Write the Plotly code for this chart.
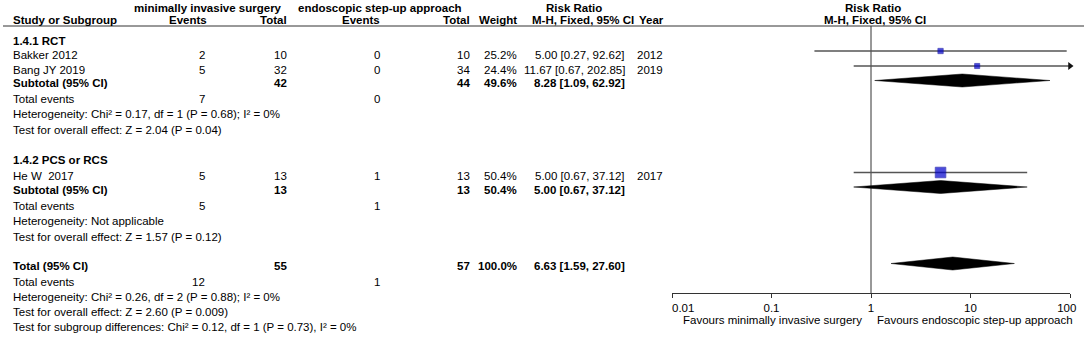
import plotly.graph_objects as go

# ---------------- data ----------------
studies = ["Bakker 2012", "Bang JY 2019", "He W\u00a0 2017"]
study_group = [0, 0, 1]
mis_events = [2, 5, 5]
mis_total = [10, 32, 13]
esu_events = [0, 0, 1]
esu_total = [10, 34, 13]
weights = [25.2, 24.4, 50.4]
rr = [5.00, 11.67, 5.00]
ci_lo = [0.27, 0.67, 0.67]
ci_hi = [92.62, 202.85, 37.12]
years = [2012, 2019, 2017]

groups = ["1.4.1 RCT", "1.4.2 PCS or RCS"]
grp_mis_total = [42, 13]
grp_esu_total = [44, 13]
grp_mis_events = [7, 5]
grp_esu_events = [0, 1]
grp_weight = [49.6, 50.4]
grp_rr = [8.28, 5.00]
grp_lo = [1.09, 0.67]
grp_hi = [62.92, 37.12]
grp_het = ["Heterogeneity: Chi² = 0.17, df = 1 (P = 0.68); I² = 0%",
           "Heterogeneity: Not applicable"]
grp_test = ["Test for overall effect: Z = 2.04 (P = 0.04)",
            "Test for overall effect: Z = 1.57 (P = 0.12)"]

tot_mis_total = 55
tot_esu_total = 57
tot_weight = 100.0
tot_rr = 6.63
tot_lo = 1.59
tot_hi = 27.60
tot_mis_events = 12
tot_esu_events = 1
tot_het = "Heterogeneity: Chi² = 0.26, df = 2 (P = 0.88); I² = 0%"
tot_test = "Test for overall effect: Z = 2.60 (P = 0.009)"
tot_sub = "Test for subgroup differences: Chi² = 0.12, df = 1 (P = 0.73), I² = 0%"

tick_vals = [0.01, 0.1, 1, 10, 100]
tick_labels = ["0.01", "0.1", "1", "10", "100"]
favours_left = "Favours minimally invasive surgery"
favours_right = "Favours endoscopic step-up approach"

# ---------------- layout constants ----------------
W, H = 1084, 338
FS = 11.5
FONT = "Arial, 'Liberation Sans', sans-serif"
AX_LO, AX_HI = 672, 1070
AXIS_Y = 293
TXT_OFF = 3.5

# row positions (mark y) for study / subtotal rows
study_y = [51, 66, 172.5]
grp_title_y = [41, 159.5]
grp_sub_y = [80.5, 187]
grp_ev_y = [98.5, 206]
grp_het_y = [113.5, 221]
grp_test_y = [129.5, 236.5]
tot_y = 263.5
tot_ev_y = 281.5
tot_het_y = 296.5
tot_test_y = 311.5
tot_sub_y = 326.5

X_LEFT = 13
X_EV1 = 205
X_TOT1 = 287
X_EV2 = 380
X_TOT2 = 470
X_WT = 517
X_CI = 625
X_YEAR = 637

ann = []


def txt(x, y, s, anchor="left", bold=False, color="black"):
    ann.append(dict(
        x=x / W, y=y, xref="paper", yref="y", text=(f"<b>{s}</b>" if bold else s),
        showarrow=False, xanchor=anchor, yanchor="middle", borderpad=0, borderwidth=0,
        font=dict(family=FONT, size=FS, color=color)))


# headers
txt(208, 8, "minimally invasive surgery", "center", True)
txt(380, 8, "endoscopic step-up approach", "center", True)
txt(574, 8, "Risk Ratio", "center", True)
txt(873, 8, "Risk Ratio", "center", True)
txt(X_LEFT, 20, "Study or Subgroup", "left", True)
txt(X_EV1 + 2, 20, "Events", "right", True)
txt(X_TOT1, 20, "Total", "right", True)
txt(X_EV2, 20, "Events", "right", True)
txt(X_TOT2, 20, "Total", "right", True)
txt(X_WT, 20, "Weight", "right", True)
txt(634, 20, "M-H, Fixed, 95% CI", "right", True)
txt(639, 20, "Year", "left", True)
txt(875, 20, "M-H, Fixed, 95% CI", "center", True)

# groups and studies
for g in range(len(groups)):
    txt(X_LEFT, grp_title_y[g], groups[g], "left", True)
    for i in range(len(studies)):
        if study_group[i] != g:
            continue
        y = study_y[i] + TXT_OFF
        txt(X_LEFT, y, studies[i])
        txt(X_EV1, y, str(mis_events[i]), "right")
        txt(X_TOT1, y, str(mis_total[i]), "right")
        txt(X_EV2, y, str(esu_events[i]), "right")
        txt(X_TOT2, y, str(esu_total[i]), "right")
        txt(X_WT, y, f"{weights[i]:.1f}%", "right")
        txt(X_CI, y, f"{rr[i]:.2f} [{ci_lo[i]:.2f}, {ci_hi[i]:.2f}]", "right")
        txt(X_YEAR, y, str(years[i]), "left")
    y = grp_sub_y[g] + 2.5
    txt(X_LEFT, y, "Subtotal (95% CI)", "left", True)
    txt(X_TOT1, y, str(grp_mis_total[g]), "right", True)
    txt(X_TOT2, y, str(grp_esu_total[g]), "right", True)
    txt(X_WT, y, f"{grp_weight[g]:.1f}%", "right", True)
    txt(X_CI, y, f"{grp_rr[g]:.2f} [{grp_lo[g]:.2f}, {grp_hi[g]:.2f}]", "right", True)
    txt(X_LEFT, grp_ev_y[g], "Total events")
    txt(X_EV1, grp_ev_y[g], str(grp_mis_events[g]), "right")
    txt(X_EV2, grp_ev_y[g], str(grp_esu_events[g]), "right")
    txt(X_LEFT, grp_het_y[g], grp_het[g])
    txt(X_LEFT, grp_test_y[g], grp_test[g])

y = tot_y + 2
txt(X_LEFT, y, "Total (95% CI)", "left", True)
txt(X_TOT1, y, str(tot_mis_total), "right", True)
txt(X_TOT2, y, str(tot_esu_total), "right", True)
txt(X_WT, y, f"{tot_weight:.1f}%", "right", True)
txt(X_CI, y, f"{tot_rr:.2f} [{tot_lo:.2f}, {tot_hi:.2f}]", "right", True)
txt(X_LEFT, tot_ev_y, "Total events")
txt(X_EV1, tot_ev_y, str(tot_mis_events), "right")
txt(X_EV2, tot_ev_y, str(tot_esu_events), "right")
txt(X_LEFT, tot_het_y, tot_het)
txt(X_LEFT, tot_test_y, tot_test)
txt(X_LEFT, tot_sub_y, tot_sub)

txt(862, 320, favours_left, "right")
txt(877, 320, favours_right, "left")

fig = go.Figure()
AXMAX = max(tick_vals)
AXMIN = min(tick_vals)

# reference line at RR = 1
fig.add_trace(go.Scatter(x=[1, 1], y=[26, AXIS_Y], mode="lines",
                         line=dict(color="#333333", width=1), hoverinfo="skip"))

# CI lines, squares, arrows
for i in range(len(studies)):
    lo = max(ci_lo[i], AXMIN)
    hi = min(ci_hi[i], AXMAX)
    fig.add_trace(go.Scatter(x=[lo, hi], y=[study_y[i]] * 2, mode="lines",
                             line=dict(color="#555555", width=1.4), hoverinfo="skip"))
    if ci_hi[i] > AXMAX:
        fig.add_trace(go.Scatter(x=[AXMAX], y=[study_y[i]], mode="markers", cliponaxis=False,
                                 marker=dict(symbol="triangle-right", size=7, color="#111111"),
                                 hoverinfo="skip"))
fig.add_trace(go.Scatter(x=rr, y=study_y, mode="markers",
                         marker=dict(symbol="square", size=[w * 0.21 for w in weights],
                                     color="#0000cc", line=dict(width=0.8, color="#0000a0")),
                         hoverinfo="skip"))

# diamonds
DH = 6.5
diam = [(grp_rr[g], grp_lo[g], grp_hi[g], grp_sub_y[g]) for g in range(len(groups))]
diam.append((tot_rr, tot_lo, tot_hi, tot_y))
for est, lo, hi, yc in diam:
    fig.add_trace(go.Scatter(x=[lo, est, hi, est, lo], y=[yc, yc - DH, yc, yc + DH, yc],
                             mode="lines", fill="toself", fillcolor="black",
                             line=dict(color="black", width=0.5), hoverinfo="skip"))

# header rule
shapes = [dict(type="line", xref="paper", yref="y", x0=3 / W, x1=1, y0=26, y1=26,
               line=dict(color="#333333", width=1))]

# end tick labels nudged inside the axis span, as in RevMan
NB = "\u00a0"
tick_text = list(tick_labels)
tick_text[0] = NB * 7 + tick_text[0]
tick_text[-1] = tick_text[-1] + NB * 2

fig.update_layout(
    width=W, height=H, margin=dict(l=0, r=0, t=0, b=0),
    paper_bgcolor="white", plot_bgcolor="rgba(0,0,0,0)", showlegend=False,
    annotations=ann, shapes=shapes,
    xaxis=dict(type="log", range=[-2, 2], domain=[AX_LO / W, AX_HI / W],
               anchor="free", position=1 - AXIS_Y / H, automargin=False,
               showline=True, linecolor="#333333", linewidth=1,
               ticks="outside", ticklen=4, tickcolor="#333333", tickwidth=1,
               tickvals=tick_vals, ticktext=tick_text, ticklabeloverflow="allow",
               tickfont=dict(family=FONT, size=FS, color="black"),
               showgrid=False, zeroline=False, fixedrange=True),
    yaxis=dict(range=[H, 0], domain=[0, 1], visible=False, showgrid=False,
               zeroline=False, fixedrange=True, automargin=False),
)

fig.write_html("out.html", config={"displayModeBar": False},
               post_script="document.body.style.margin='0';document.body.style.overflow='hidden';")
